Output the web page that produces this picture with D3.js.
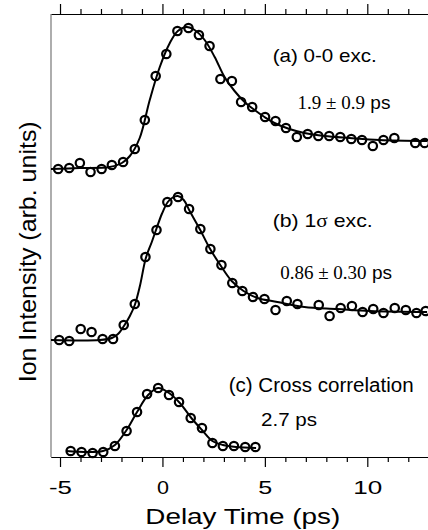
<!DOCTYPE html>
<html>
<head>
<meta charset="utf-8">
<script src="https://cdn.jsdelivr.net/npm/d3@7"></script>
<style>
  body { margin: 0; background: #fff; }
  svg { display: block; }
  text { font-family: "Liberation Sans", Arial, sans-serif; fill: #000; }
  .serif { font-family: "Liberation Serif", "Times New Roman", serif; }
</style>
</head>
<body>
<svg id="chart" width="428" height="530"></svg>
<script>
// delay (ps) and ion signal (arb. units, traces stacked)
var delayA = [-5.09,-4.55,-4.03,-3.51,-2.97,-2.47,-1.92,-1.35,-0.86,-0.33,0.19,0.73,1.27,1.78,2.30,2.83,3.39,3.84,4.38,5.01,5.52,6.03,6.56,7.09,7.61,8.14,8.68,9.22,9.74,10.27,10.79,11.32,12.34,12.80];
var signalA = [288,289,294,285,288,292,295,308,337,381,403,426,429,422,411,378,376,355,350,340,336,329,320,323,321,321,320,318,317,311,317,319,314,314];
var fitDelayA = [-5.44,-4.03,-2.57,-1.98,-1.59,-1.11,-0.62,-0.13,0.36,0.75,1.18,1.57,2.06,2.55,3.03,3.52,4.01,4.50,4.98,5.47,6.20,6.93,7.91,9.13,10.59,12.92];
var fitA = [288,289,290,294,301,319,357,390,414,426,430,427,417,400,380,366,355,347,340,334,328,324,321,319,317,316];

var delayB = [-5.04,-4.55,-3.99,-3.46,-2.92,-2.41,-1.89,-1.35,-0.83,-0.29,0.24,0.76,1.30,1.85,2.34,2.88,3.41,3.90,4.42,4.98,5.52,6.07,6.59,7.63,8.16,8.70,9.25,9.77,10.29,10.79,11.34,11.88,12.40,12.85];
var signalB = [117,116,128,125,118,118,132,153,200,227,255,260,248,228,208,192,174,166,160,158,147,156,153,152,141,149,151,145,148,144,149,147,144,146];
var fitDelayB = [-5.44,-3.06,-2.47,-2.17,-1.88,-1.59,-1.35,-1.10,-0.81,-0.52,-0.28,-0.03,0.26,0.50,0.75,1.04,1.33,1.82,2.30,2.79,3.38,3.96,4.64,5.61,6.93,8.54,10.14,12.92];
var fitB = [117,117,119,123,131,141,152,171,199,215,229,243,255,259.5,261,257,246,228,209,193,176,166,159,155,150,148,146,145];

var delayC = [-4.48,-3.95,-3.41,-2.89,-2.32,-1.75,-1.24,-0.75,-0.21,0.32,0.81,1.38,1.93,2.44,2.95,3.49,4.04,4.54];
var signalC = [6,5,4,5,11,26,45,63,69,62,55,39,29,14,11,11,10,10];
var fitDelayC = [-4.70,-2.90,-2.32,-1.75,-1.24,-0.70,-0.21,0.32,0.85,1.41,1.93,2.44,2.95,3.60,4.57];
var fitC = [6,6,12,27,45,62,69,64,54,39,27,16,12,10,9];

var majorTicks = [-5, 0, 5, 10];
var minorTicks = [-4,-3,-2,-1,1,2,3,4,6,7,8,9,11,12,13];
var tickLabels = ["-5", "0", "5", "10"];

var svg = d3.select("#chart");

var x = d3.scaleLinear().domain([-5.44, 13.5]).range([51, 439]);
var y = d3.scaleLinear().domain([0, 443]).range([457, 14]);

// axes: ticks outward on top and bottom, plain line on the left
function drawAxis(gen, yPos, ticks, size, labels) {
  var g = svg.append("g")
    .attr("transform", "translate(0," + yPos + ")")
    .call(gen(x).tickValues(ticks).tickSize(size).tickSizeOuter(0)
      .tickPadding(13.5)
      .tickFormat(function(d, i){ return labels ? labels[i] : ""; }));
  g.attr("font-family", null).attr("font-size", null);
  g.selectAll("line").attr("stroke", "#000").attr("stroke-width", 1.2);
  g.select(".domain").attr("stroke", "#000").attr("stroke-width", 1.2);
  return g;
}
drawAxis(d3.axisBottom, 457, minorTicks, 5);
var bot = drawAxis(d3.axisBottom, 457, majorTicks, 10, tickLabels);
var labelW = {"-5": 23, "0": 12, "5": 14, "10": 29};
bot.selectAll("text")
  .style("font-size", "19px")
  .attr("textLength", function(d, i){ return labelW[tickLabels[i]]; })
  .attr("lengthAdjust", "spacingAndGlyphs");
drawAxis(d3.axisTop, 14, minorTicks, 5);
drawAxis(d3.axisTop, 14, majorTicks, 10);

svg.append("line")
  .attr("x1", 51).attr("x2", 51).attr("y1", 14).attr("y2", 457)
  .attr("stroke", "#777").attr("stroke-width", 1.2);

// fit curves and data circles
var line = d3.line()
  .x(function(d){ return x(d[0]); })
  .y(function(d){ return y(d[1]); })
  .curve(d3.curveCatmullRom.alpha(0.5));

var traces = [
  [delayA, signalA, fitDelayA, fitA],
  [delayB, signalB, fitDelayB, fitB],
  [delayC, signalC, fitDelayC, fitC]
];

traces.forEach(function(t){
  svg.append("path")
    .datum(d3.zip(t[2], t[3]))
    .attr("d", line)
    .attr("fill", "none")
    .attr("stroke", "#000")
    .attr("stroke-width", 2);
  svg.append("g").selectAll("circle")
    .data(d3.zip(t[0], t[1]))
    .enter().append("circle")
    .attr("cx", function(d){ return x(d[0]); })
    .attr("cy", function(d){ return y(d[1]); })
    .attr("r", 4.2)
    .attr("fill", "none")
    .attr("stroke", "#000")
    .attr("stroke-width", 2.2);
});

// annotations
function note(xp, yp, size, width) {
  var t = svg.append("text").attr("x", xp).attr("y", yp).style("font-size", size + "px");
  if (width) t.attr("textLength", width).attr("lengthAdjust", "spacingAndGlyphs");
  return t;
}
note(272.7, 62, 18.6, 104).text("(a) 0-0 exc.");
var ta = note(297.6, 109, 19);
ta.append("tspan").attr("class", "serif").text("1.9 \u00b1 0.9");
ta.append("tspan").text(" ps");

var tb = note(272.7, 227, 18.6, 100);
tb.append("tspan").text("(b) 1");
tb.append("tspan").attr("class", "serif").text("\u03c3");
tb.append("tspan").text(" exc.");
var tb2 = note(280.2, 279, 19);
tb2.append("tspan").attr("class", "serif").text("0.86 \u00b1 0.30");
tb2.append("tspan").text(" ps");

note(228.7, 392, 19.5, 185).text("(c) Cross correlation");
note(261, 426, 19, 56).text("2.7 ps");

note(145.3, 524, 22, 195).text("Delay Time (ps)");

svg.append("text")
  .attr("transform", "translate(36,382.3) rotate(-90)")
  .style("font-size", "24.5px")
  .attr("textLength", 261)
  .attr("lengthAdjust", "spacingAndGlyphs")
  .text("Ion Intensity (arb. units)");
</script>
</body>
</html>
